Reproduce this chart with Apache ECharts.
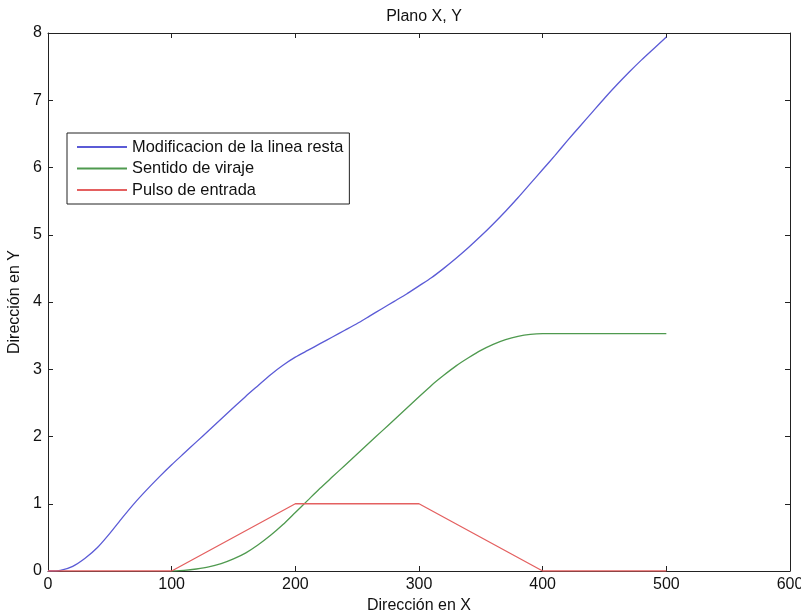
<!DOCTYPE html>
<html>
<head>
<meta charset="utf-8">
<script src="https://cdn.jsdelivr.net/npm/echarts@6/dist/echarts.min.js"></script>
<style>
  html, body { margin: 0; padding: 0; background: #fff; }
  #chart { width: 801px; height: 612px; }
</style>
</head>
<body>
<div id="chart"></div>
<script>
// valores
var seriesNames = ['Modificacion de la linea resta', 'Sentido de viraje', 'Pulso de entrada'];

var blueX = [0, 10, 20, 30, 40, 50, 60, 70, 80, 90, 100, 110, 120, 130, 140, 150, 160, 170, 180, 190,
  200, 210, 220, 230, 240, 250, 260, 270, 280, 290, 300, 310, 320, 330, 340, 350, 360, 370, 380, 390,
  400, 410, 420, 430, 440, 450, 460, 470, 480, 490, 500];
var blueY = [0, 0.01, 0.07, 0.19, 0.35, 0.56, 0.79, 1.01, 1.21, 1.4, 1.58, 1.75, 1.92, 2.09, 2.26, 2.43, 2.6, 2.76, 2.92, 3.06,
  3.18, 3.28, 3.38, 3.48, 3.58, 3.68, 3.79, 3.9, 4.01, 4.12, 4.24, 4.36, 4.5, 4.65, 4.81, 4.98, 5.16, 5.35, 5.55, 5.76,
  5.97, 6.18, 6.4, 6.61, 6.82, 7.03, 7.23, 7.42, 7.6, 7.77, 7.94];

var greenX = [100, 110, 120, 130, 140, 150, 160, 170, 180, 190, 200, 210, 220, 230, 240, 250, 260, 270, 280, 290,
  300, 310, 320, 330, 340, 350, 360, 370, 380, 390, 400, 500];
var greenY = [0, 0.01, 0.03, 0.06, 0.11, 0.18, 0.27, 0.39, 0.53, 0.69, 0.87, 1.05, 1.23, 1.4, 1.57, 1.74, 1.91, 2.08, 2.25, 2.42,
  2.59, 2.76, 2.91, 3.05, 3.17, 3.28, 3.37, 3.44, 3.49, 3.52, 3.53, 3.53];

var redX = [0, 100, 200, 300, 400, 500];
var redY = [0, 0, 1, 1, 0, 0];

var colors = ['#5b5bd6', '#4f9a4f', '#e46060'];

function pairs(xs, ys) {
  return xs.map(function (x, i) { return [x, ys[i]]; });
}

var chart = echarts.init(document.getElementById('chart'));

var txt = { color: '#111', fontFamily: '"Liberation Sans", Arial, sans-serif', fontSize: 16 };

var baseX = {
  type: 'value', min: 0, max: 600, interval: 100,
  axisLine: { show: true, onZero: false, lineStyle: { color: '#222', width: 1 } },
  axisTick: { show: true, inside: true, length: 5, lineStyle: { color: '#222' } },
  splitLine: { show: false }
};
var baseY = {
  type: 'value', min: 0, max: 8, interval: 1,
  axisLine: { show: true, onZero: false, lineStyle: { color: '#222', width: 1 } },
  axisTick: { show: true, inside: true, length: 5, lineStyle: { color: '#222' } },
  splitLine: { show: false }
};

chart.setOption({
  animation: false,
  backgroundColor: '#fff',
  title: {
    text: 'Plano X, Y',
    left: 419, top: 4, textAlign: 'center',
    textStyle: Object.assign({}, txt, { fontWeight: 'normal' })
  },
  legend: {
    data: seriesNames,
    orient: 'vertical',
    left: 67, top: 133,
    padding: [6, 6, 6, 9],
    itemWidth: 50, itemHeight: 14, itemGap: 5.5,
    itemStyle: { opacity: 0 },
    backgroundColor: '#fff',
    borderColor: '#222', borderWidth: 1, borderRadius: 0,
    textStyle: Object.assign({}, txt, { fontSize: 16.4 })
  },
  grid: { left: 48, right: 11, top: 33, bottom: 41, containLabel: false, outerBoundsMode: 'none' },
  xAxis: [
    Object.assign({}, baseX, {
      position: 'bottom',
      name: 'Dirección en X', nameLocation: 'middle', nameGap: 17,
      nameTextStyle: txt,
      axisLabel: Object.assign({}, txt, { margin: 6 })
    }),
    Object.assign({}, baseX, { position: 'top', axisLabel: { show: false } })
  ],
  yAxis: [
    Object.assign({}, baseY, {
      position: 'left',
      name: 'Dirección en Y', nameLocation: 'middle', nameGap: 16,
      nameTextStyle: txt,
      axisLabel: Object.assign({}, txt, { margin: 6 })
    }),
    Object.assign({}, baseY, { position: 'right', axisLabel: { show: false } })
  ],
  series: [
    { name: seriesNames[0], type: 'line', data: pairs(blueX, blueY), smooth: 0.2, symbol: 'none',
      lineStyle: { color: colors[0], width: 1.3 }, itemStyle: { color: colors[0] } },
    { name: seriesNames[1], type: 'line', data: pairs(greenX, greenY), smooth: 0.2, symbol: 'none',
      lineStyle: { color: colors[1], width: 1.3 }, itemStyle: { color: colors[1] } },
    { name: seriesNames[2], type: 'line', data: pairs(redX, redY), symbol: 'none',
      lineStyle: { color: colors[2], width: 1.3 }, itemStyle: { color: colors[2] } }
  ]
});
</script>
</body>
</html>
